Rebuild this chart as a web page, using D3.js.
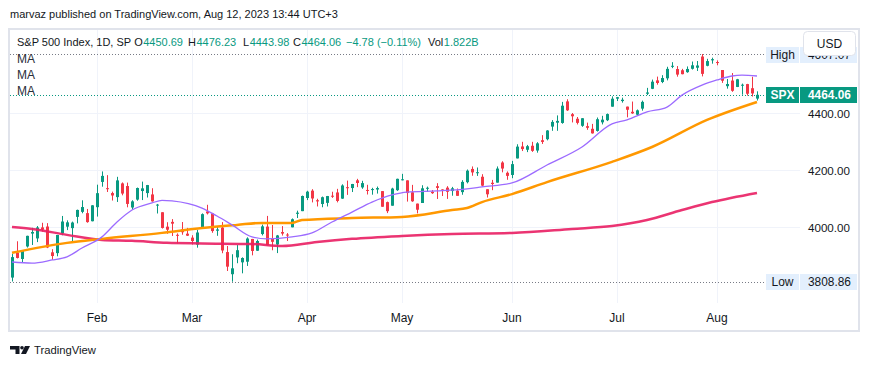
<!DOCTYPE html>
<html><head><meta charset="utf-8">
<script src="https://cdn.jsdelivr.net/npm/d3@7"></script>
<style>
html,body{margin:0;padding:0;background:#fff;}
svg{display:block;font-family:"Liberation Sans",Arial,sans-serif;}
</style></head><body>
<svg id="c" width="870" height="367"></svg>
<script>
// ---------------- DATA ----------------
const dates = ["Jan 6","Jan 9","Jan 10","Jan 11","Jan 12","Jan 13","Jan 17","Jan 18","Jan 19","Jan 20","Jan 23","Jan 24","Jan 25","Jan 26","Jan 27","Jan 30","Jan 31",
"Feb 1","Feb 2","Feb 3","Feb 6","Feb 7","Feb 8","Feb 9","Feb 10","Feb 13","Feb 14","Feb 15","Feb 16","Feb 17","Feb 21","Feb 22","Feb 23","Feb 24","Feb 27","Feb 28",
"Mar 1","Mar 2","Mar 3","Mar 6","Mar 7","Mar 8","Mar 9","Mar 10","Mar 13","Mar 14","Mar 15","Mar 16","Mar 17","Mar 20","Mar 21","Mar 22","Mar 23","Mar 24","Mar 27","Mar 28","Mar 29","Mar 30","Mar 31",
"Apr 3","Apr 4","Apr 5","Apr 6","Apr 10","Apr 11","Apr 12","Apr 13","Apr 14","Apr 17","Apr 18","Apr 19","Apr 20","Apr 21","Apr 24","Apr 25","Apr 26","Apr 27","Apr 28",
"May 1","May 2","May 3","May 4","May 5","May 8","May 9","May 10","May 11","May 12","May 15","May 16","May 17","May 18","May 19","May 22","May 23","May 24","May 25","May 26","May 30","May 31",
"Jun 1","Jun 2","Jun 5","Jun 6","Jun 7","Jun 8","Jun 9","Jun 12","Jun 13","Jun 14","Jun 15","Jun 16","Jun 20","Jun 21","Jun 22","Jun 23","Jun 26","Jun 27","Jun 28","Jun 29","Jun 30",
"Jul 3","Jul 5","Jul 6","Jul 7","Jul 10","Jul 11","Jul 12","Jul 13","Jul 14","Jul 17","Jul 18","Jul 19","Jul 20","Jul 21","Jul 24","Jul 25","Jul 26","Jul 27","Jul 28","Jul 31",
"Aug 1","Aug 2","Aug 3","Aug 4","Aug 7","Aug 8","Aug 9","Aug 10","Aug 11"];

const open = [3823.37,3910.82,3888.57,3932.35,3977.57,3960.60,3999.28,4002.25,3911.84,3909.04,3978.14,4001.74,3996.66,4036.08,4053.72,4049.27,4020.85,
4070.07,4158.68,4136.69,4119.57,4105.35,4153.47,4144.25,4068.92,4096.62,4126.70,4119.50,4114.75,4077.39,4052.35,4001.83,4018.60,3973.24,3992.36,3977.19,
3963.34,3938.68,3998.02,4055.15,4048.26,3987.55,3998.66,3912.77,3835.12,3894.01,3876.74,3878.93,3958.69,3917.47,3975.89,4002.04,3959.21,3939.21,3982.93,3974.13,3999.53,4046.74,4056.18,
4102.20,4128.03,4094.50,4081.15,4085.20,4110.29,4121.72,4100.04,4140.11,4137.17,4164.26,4139.33,4130.48,4132.14,4132.07,4126.43,4087.78,4075.29,4129.63,
4166.79,4164.10,4122.25,4082.61,4084.73,4136.98,4124.25,4143.74,4132.24,4138.54,4126.65,4127.95,4122.85,4157.68,4204.15,4190.78,4176.80,4132.96,4155.71,4156.16,4226.71,4190.74,
4183.03,4241.01,4282.99,4271.34,4285.47,4268.69,4304.88,4308.32,4352.61,4366.29,4365.33,4440.95,4396.11,4380.01,4355.40,4354.17,4344.84,4337.36,4367.48,4374.94,4422.44,
4450.48,4442.04,4422.62,4404.54,4394.23,4415.55,4467.69,4485.00,4514.61,4508.86,4521.78,4563.87,4554.38,4550.16,4543.39,4555.19,4558.96,4598.26,4565.75,4584.82,
4578.83,4550.93,4494.27,4513.96,4491.58,4498.03,4501.57,4487.16,4450.69];

const high = [3906.19,3950.57,3919.83,3970.07,3997.76,4003.95,4015.39,4014.16,3922.94,3972.96,4039.31,4023.92,4019.55,4061.57,4094.21,4063.85,4077.16,
4148.95,4195.44,4182.36,4124.63,4176.54,4156.85,4156.23,4094.36,4138.90,4159.77,4148.11,4136.54,4081.51,4052.35,4017.37,4028.30,3978.25,4018.05,3997.50,
3971.73,3990.84,4048.29,4078.49,4050.00,4000.41,4017.81,3934.05,3905.05,3937.29,3894.26,3964.46,3958.91,3956.62,4009.08,4039.49,4007.66,3972.74,4003.83,3979.20,4030.59,4057.85,4110.75,
4127.66,4133.13,4099.69,4107.32,4109.50,4124.26,4134.37,4150.26,4163.19,4151.72,4169.48,4162.57,4148.57,4138.02,4142.41,4126.43,4089.67,4138.24,4170.06,
4186.92,4164.10,4148.30,4082.61,4147.02,4142.30,4130.35,4154.28,4132.80,4143.74,4141.25,4135.54,4164.67,4202.20,4212.91,4209.22,4185.68,4132.96,4165.74,4212.87,4231.10,4195.44,
4232.43,4290.67,4299.28,4288.33,4299.19,4298.01,4322.62,4340.13,4375.37,4391.82,4439.20,4448.47,4400.15,4386.22,4382.25,4366.55,4362.06,4384.42,4390.35,4398.39,4458.48,
4456.46,4454.06,4422.62,4440.39,4412.60,4443.64,4488.34,4517.38,4527.76,4532.85,4562.30,4578.43,4564.74,4555.00,4563.41,4580.62,4582.47,4607.07,4590.16,4594.22,
4584.62,4550.93,4519.49,4540.34,4519.84,4503.31,4502.44,4527.37,4476.23];

const low = [3809.56,3890.42,3877.29,3928.54,3937.56,3947.67,3984.57,3926.59,3885.54,3897.86,3971.64,3989.79,3949.06,4013.29,4048.70,4015.55,4020.44,
4037.20,4141.88,4123.36,4093.38,4088.39,4111.67,4069.67,4060.79,4092.67,4095.01,4103.98,4089.49,4047.95,3995.19,3976.90,3969.19,3943.08,3973.55,3968.98,
3939.05,3928.16,3995.17,4044.61,3980.31,3969.76,3908.70,3846.32,3808.86,3873.63,3838.24,3864.11,3901.27,3916.89,3971.19,3936.17,3919.05,3909.16,3970.49,3951.53,3999.53,4032.10,4056.18,
4094.90,4086.87,4072.56,4069.84,4072.55,4102.61,4086.94,4099.40,4113.20,4123.18,4140.36,4134.49,4114.57,4113.86,4117.77,4071.38,4049.35,4075.29,4127.18,
4164.12,4089.72,4088.86,4048.28,4084.73,4123.81,4116.65,4098.92,4109.29,4099.12,4110.27,4109.86,4113.62,4153.50,4180.20,4179.68,4142.54,4103.98,4129.73,4156.16,4192.18,4166.15,
4171.64,4241.01,4266.82,4263.09,4263.96,4261.07,4291.70,4304.37,4337.85,4337.85,4362.60,4407.44,4367.19,4360.14,4351.82,4341.34,4328.08,4335.00,4360.22,4371.97,4422.44,
4442.29,4436.61,4385.05,4397.40,4389.92,4408.46,4463.23,4483.99,4499.56,4504.90,4514.59,4557.48,4527.56,4535.79,4541.29,4552.42,4547.58,4528.56,4564.01,4573.14,
4567.53,4505.75,4485.54,4474.55,4491.15,4464.39,4461.33,4457.92,4443.98];

const close = [3895.08,3892.09,3919.25,3969.61,3983.17,3999.09,3990.97,3928.86,3898.85,3972.61,4019.81,4016.95,4016.22,4060.43,4070.56,4017.77,4076.60,
4119.21,4179.76,4136.48,4111.08,4164.00,4117.86,4081.50,4090.46,4137.29,4136.13,4147.60,4090.41,4079.09,3997.34,3991.05,4012.32,3970.04,3982.24,3970.15,
3951.39,3981.35,4045.64,4048.42,3986.37,3992.01,3918.32,3861.59,3855.76,3919.29,3891.93,3960.28,3916.64,3951.57,4002.87,3936.97,3948.72,3970.99,3977.53,3971.27,4027.81,4050.83,4109.31,
4124.51,4100.60,4090.38,4105.02,4109.11,4108.94,4091.95,4146.22,4137.64,4151.32,4154.87,4154.52,4129.79,4133.52,4137.04,4071.63,4055.99,4135.35,4169.48,
4167.87,4119.58,4090.75,4061.22,4136.25,4138.12,4119.17,4137.64,4130.62,4124.08,4136.28,4109.90,4158.77,4198.05,4191.98,4192.63,4145.58,4115.24,4151.28,4205.45,4205.52,4179.83,
4221.02,4282.37,4273.79,4283.85,4267.52,4293.93,4298.86,4338.93,4369.01,4372.59,4425.84,4409.59,4388.71,4365.69,4381.89,4348.33,4328.82,4378.41,4376.86,4396.44,4450.38,
4455.59,4446.82,4411.59,4398.95,4409.53,4439.26,4472.16,4510.04,4505.42,4522.79,4554.98,4565.72,4534.87,4536.34,4554.64,4567.46,4566.75,4537.41,4582.23,4588.96,
4576.73,4513.39,4501.89,4478.03,4518.44,4499.38,4467.71,4468.83,4464.06];

// moving averages: [bar index, value]
const maShort = [[0,3878],[4,3874],[8,3885],[11,3896],[14,3927],[18,3966],[21,4018],[24,4060],[28,4085],[30,4094],[32,4092],[38,4067],[41,4039],[44,4008],[48,3966],[51,3959],[56,3966],[60,3980],[64,4018],[68,4053],[72,4088],[76,4113],[79,4123],[85,4127],[91,4134],[94,4141],[100,4155],[107,4218],[114,4281],[120,4362],[123,4376],[127,4404],[131,4421],[134,4463],[138,4498],[141,4516],[144,4530],[146,4533],[149,4530]];
const maMid = [[0,3910],[11,3945],[18,3959],[30,3980],[38,3997],[45,4008],[50,4015],[56,4015],[58,4025],[68,4032],[78,4036],[88,4060],[91,4067],[94,4088],[100,4116],[107,4158],[120,4229],[128,4281],[139,4376],[149,4439]];
const maLong = [[0,4001],[4,3994],[11,3973],[18,3955],[24,3952],[31,3945],[38,3943],[48,3941],[54,3934],[61,3948],[68,3959],[78,3969],[88,3976],[100,3980],[112,3994],[120,4004],[127,4025],[134,4060],[140,4088],[149,4120]];

const monthTicks = ["Feb 1","Mar 1","Apr 3","May 1","Jun 1","Jul 3","Aug 1"];
const priceTicks = [4000, 4200, 4400];
const lastPrice = 4464.06, highPrice = 4607.07, lowPrice = 3808.86;

const headerText = "marvaz published on TradingView.com, Aug 12, 2023 13:44 UTC+3";
const titleText = "S&P 500 Index, 1D, SP";
const legendLabels = ["O","H","L","C","","Vol"];
const legendValues = ["4450.69","4476.23","4443.98","4464.06","\u22124.78 (\u22120.11%)","1.822B"];
const maLabels = ["MA","MA","MA"];

// ---------------- DRAW ----------------
const UP = "#089981", DOWN = "#f23645", TXT = "#131722", GRID = "#f0f3fa";
const svg = d3.select("#c");
const plot = {l:10, r:766, t:30, b:303};

const xb = d3.scaleBand().domain(dates).range([9.5, 759.5]).paddingInner(0.4).paddingOuter(0.2);
const bw = xb.bandwidth();
const xi = i => xb(dates[i]) + bw/2;
const y = d3.scaleLinear().domain([lowPrice, highPrice]).range([281.7, 54]);

function fitFont(sel, w, size){
  sel.style("font-size", size + "px");
  const len = sel.node().getComputedTextLength();
  if (len > w) sel.style("font-size", (size * w / len).toFixed(2) + "px");
  return sel;
}

svg.append("rect").attr("width",870).attr("height",367).attr("fill","#fff");
svg.append("rect").attr("x",9).attr("y",29).attr("width",850).attr("height",302)
  .attr("fill","#fff").attr("stroke","#e0e3eb").attr("stroke-width",2);

// grid
svg.append("g").selectAll("line").data(monthTicks).join("line")
  .attr("x1", d => Math.round(xb(d)+bw/2)+0.5).attr("x2", d => Math.round(xb(d)+bw/2)+0.5)
  .attr("y1", plot.t).attr("y2", plot.b).attr("stroke", GRID);
svg.append("g").selectAll("line").data(priceTicks).join("line")
  .attr("x1", plot.l).attr("x2", 800)
  .attr("y1", d => Math.round(y(d))+0.5).attr("y2", d => Math.round(y(d))+0.5).attr("stroke", GRID);

// clips
const defs = svg.append("defs");
defs.append("clipPath").attr("id","clip").append("rect")
  .attr("x", plot.l).attr("y", plot.t).attr("width", plot.r-plot.l).attr("height", plot.b-plot.t);
defs.append("clipPath").attr("id","hiclip").append("rect")
  .attr("x", 800).attr("y", 56).attr("width", 57).attr("height", 8);

// dotted level lines
const lv = svg.append("g");
[[highPrice,"#787b86"],[lowPrice,"#787b86"],[lastPrice,UP]].forEach(([v,c]) => {
  lv.append("line").attr("x1",10).attr("x2",766)
    .attr("y1",Math.round(y(v))+0.5).attr("y2",Math.round(y(v))+0.5)
    .attr("stroke",c).attr("stroke-dasharray","1 2");
});

// candles
const cg = svg.append("g").attr("clip-path","url(#clip)");
const idx = d3.range(dates.length);
cg.selectAll("line.w").data(idx).join("line").attr("class","w")
  .attr("x1", i => Math.round(xb(dates[i]))+1.5).attr("x2", i => Math.round(xb(dates[i]))+1.5)
  .attr("y1", i => y(high[i])).attr("y2", i => y(low[i]))
  .attr("stroke", i => close[i] >= open[i] ? UP : DOWN).attr("stroke-width",1);
cg.selectAll("rect.b").data(idx).join("rect").attr("class","b")
  .attr("x", i => Math.round(xb(dates[i]))).attr("width", 3)
  .attr("y", i => Math.min(y(open[i]), y(close[i])))
  .attr("height", i => Math.max(1, Math.abs(y(open[i]) - y(close[i]))))
  .attr("fill", i => close[i] >= open[i] ? UP : DOWN);

// moving averages
const line = d3.line().x(d => xi(d[0])).y(d => y(d[1])).curve(d3.curveMonotoneX);
cg.append("path").datum(maLong).attr("d", line).attr("fill","none").attr("stroke","#e91e63").attr("stroke-width",2.5).attr("stroke-opacity",0.9);
cg.append("path").datum(maMid).attr("d", line).attr("fill","none").attr("stroke","#ff9800").attr("stroke-width",2.5);
cg.append("path").datum(maShort).attr("d", line).attr("fill","none").attr("stroke","#9c6bff").attr("stroke-width",1.3);

// time axis
const gx = svg.append("g").attr("transform",`translate(0,${plot.b})`)
  .call(d3.axisBottom(xb).tickValues(monthTicks).tickFormat(d => d.split(" ")[0]).tickSize(0));
gx.select(".domain").remove();
gx.selectAll("text").attr("y",15).attr("dy","0.35em").attr("fill",TXT)
  .style("font-size","12px").style("font-family","'Liberation Sans',Arial,sans-serif");

// price axis
const gy = svg.append("g").attr("transform","translate(808,0)")
  .call(d3.axisRight(y).tickValues(priceTicks).tickFormat(d3.format(".2f")).tickSize(0).tickPadding(0));
gy.select(".domain").remove();
gy.selectAll("text").attr("fill",TXT).attr("dy","0.35em").attr("text-anchor","start")
  .style("font-family","'Liberation Sans',Arial,sans-serif")
  .each(function(){ fitFont(d3.select(this), 42, 12); });

// price labels
function tag(yc, label, value, bg, fg, bold, clip){
  const g = svg.append("g");
  const top = Math.round(yc) - 8;
  g.append("rect").attr("x",766).attr("y",top).attr("width",33).attr("height",16).attr("fill",bg);
  g.append("rect").attr("x",800).attr("y",top).attr("width",57).attr("height",16).attr("fill",bg);
  fitFont(g.append("text").attr("x",782.5).attr("y",top+8).attr("dy","0.35em").attr("text-anchor","middle")
    .attr("fill",fg).style("font-weight",bold?"bold":"normal").text(label), 28, 12);
  const t = g.append("text").attr("x",808).attr("y",top+8).attr("dy","0.35em")
    .attr("fill",fg).style("font-weight",bold?"bold":"normal").text(value);
  fitFont(t, 43, 12);
  if (clip) t.attr("clip-path", clip);
}
tag(y(highPrice)+1, "High", d3.format(".2f")(highPrice), "#e3effd", TXT, false, "url(#hiclip)");
tag(y(lowPrice), "Low", d3.format(".2f")(lowPrice), "#e3effd", TXT, false);
tag(y(lastPrice), "SPX", d3.format(".2f")(lastPrice), UP, "#fff", true);

// USD button
svg.append("rect").attr("x",803.5).attr("y",31.5).attr("width",52).attr("height",24).attr("rx",4)
  .attr("fill","#fff").attr("stroke","#e0e3eb");
svg.append("text").attr("x",829.5).attr("y",43.5).attr("dy","0.35em").attr("text-anchor","middle")
  .attr("fill",TXT).style("font-size","12px").text("USD");

// header
fitFont(svg.append("text").attr("x",10).attr("y",14).attr("dy","0.35em").attr("fill",TXT).text(headerText), 328, 12.5);
const LF = 11;
const title = svg.append("text").attr("x",17).attr("y",42).attr("dy","0.35em").attr("fill",TXT)
  .style("font-size", LF+"px").text(titleText);
let cursor = 17 + title.node().getComputedTextLength();
const groupX = [134,188,243,293,346,428];
legendLabels.forEach((lab, i) => {
  let x = Math.max(groupX[i], cursor + 3);
  if (lab) {
    const t = svg.append("text").attr("x",x).attr("y",42).attr("dy","0.35em").attr("fill",TXT)
      .style("font-size", LF+"px").text(lab);
    x += t.node().getComputedTextLength() + 0.5;
  }
  const v = svg.append("text").attr("x",x).attr("y",42).attr("dy","0.35em").attr("fill",UP)
    .style("font-size", LF+"px").text(legendValues[i]);
  cursor = x + v.node().getComputedTextLength();
});
maLabels.forEach((m, i) => {
  svg.append("text").attr("x",17).attr("y",59 + i*16).attr("dy","0.35em").attr("fill","#2a2e39")
    .style("font-size","12px").text(m);
});

// logo
const lg = svg.append("g").attr("fill",TXT);
lg.append("path").attr("d","M10,346 h9.5 v8 h-4 v-4.5 h-5.5 z");
lg.append("circle").attr("cx",22).attr("cy",347.8).attr("r",1.8);
lg.append("path").attr("d","M25,346 h5 l-4,8 h-5 z");
fitFont(lg.append("text").attr("x",34).attr("y",350).attr("dy","0.35em").text("TradingView"), 62, 13.5);
</script>
</body></html>
